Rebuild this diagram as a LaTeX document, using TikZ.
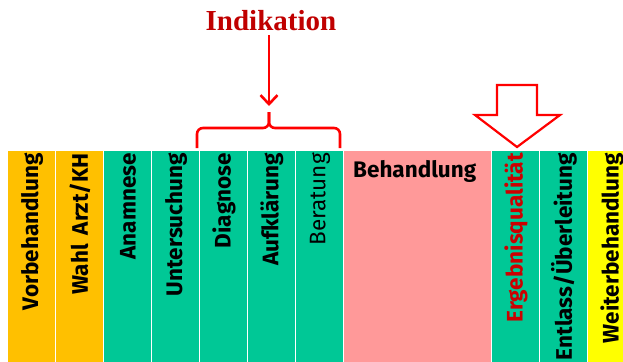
\documentclass[tikz,border=0pt]{standalone}
\usepackage{fontspec}
\setmainfont{Fira Sans}
\newfontfamily\titlefont{Liberation Serif}
\usetikzlibrary{arrows.meta}
\definecolor{orng}{HTML}{FFC000}
\definecolor{teal2}{HTML}{00C896}
\definecolor{pnk}{HTML}{FF9999}
\definecolor{yel}{HTML}{FFFF00}
\definecolor{redtxt}{HTML}{CC0000}
\definecolor{titlered}{HTML}{C00000}
\tikzset{
  coltext/.style={rotate=90, anchor=east, inner sep=0pt, font=\fontsize{22.5}{22.5}\selectfont\bfseries},
  redline/.style={draw=red, line width=2.6pt}
}
\begin{document}
\begin{tikzpicture}[x=1pt,y=-1pt]
\useasboundingbox (0,0) rectangle (623,361);
\clip (0,0) rectangle (623,361);
% columns
\fill[orng] (8,151) rectangle (55,370);
\fill[orng] (56,151) rectangle (103,370);
\fill[teal2] (104,151) rectangle (151,370);
\fill[teal2] (152,151) rectangle (199,370);
\fill[teal2] (200,151) rectangle (247,370);
\fill[teal2] (248,151) rectangle (295,370);
\fill[teal2] (296,151) rectangle (343,370);
\fill[pnk] (344,151) rectangle (491,370);
\fill[teal2] (492,151) rectangle (539,370);
\fill[teal2] (540,151) rectangle (587,370);
\fill[yel] (588,151) rectangle (640,370);
% column texts
\node[coltext] (t1) at (32,153) {Vorbehandlung};
\node[coltext] (t2) at (80,153) {Wahl\, Arzt/KH};
\node[coltext] (t3) at (128,153) {Anamnese};
\node[coltext] (t4) at (176,153) {Untersuchung};
\node[coltext] (t5) at (224,153) {Diagnose};
\node[coltext] (t6) at (272,153) {Aufklärung};
\node[coltext, font=\fontsize{22.5}{22.5}\selectfont] (t7) at (320,153) {Beratung};
\node[anchor=north west, inner sep=0pt, font=\fontsize{22.5}{22.5}\selectfont\bfseries] (t8) at (353,160) {Behandlung};
\node[coltext, text=redtxt] (t9) at (516,153) {Ergebnisqualität};
\node[coltext] (t10) at (564,153) {Entlass/Überleitung};
\node[coltext] (t11) at (612,153) {Weiterbehandlung};
% Indikation
\node[font=\titlefont\fontsize{29}{29}\selectfont\bfseries, text=titlered, inner sep=0pt] (ind) at (271,21) {Indikation};
\coordinate (bp) at (269,112);
\coordinate (bl) at (197,148);
\coordinate (br) at (340,148);
\draw[redline, -{Straight Barb[length=9pt,width=17pt]}] (ind.south -| bp) ++(0,4) -- ([yshift=6pt]bp);
% brace
\draw[redline, rounded corners=6pt] (bl) -- (bl |- 0,128) -- (bp |- 0,128) -- (bp);
\draw[redline, rounded corners=6pt] (br) -- (br |- 0,128) -- (bp |- 0,128) -- (bp);
% hollow arrow
\draw[draw=red, fill=white, line width=2.2pt, line join=miter] (497,85) -- (537,85) -- (537,115) -- (560,115) -- (517,147) -- (475,115) -- (497,115) -- cycle;
\end{tikzpicture}
\end{document}
